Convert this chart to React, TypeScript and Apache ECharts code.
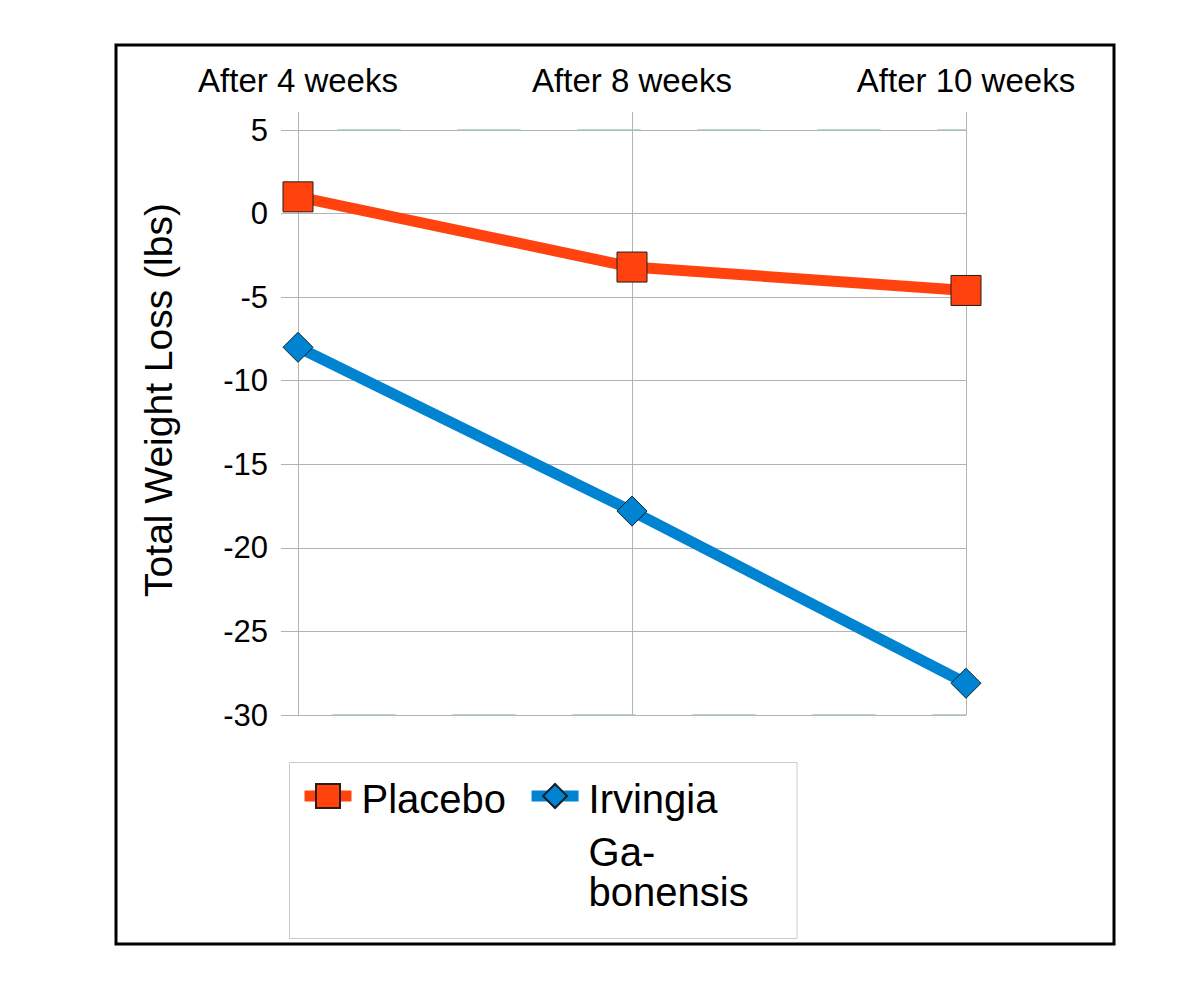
import React, { useEffect, useRef } from "react";
import * as echarts from "echarts";

const categories = ["After 4 weeks", "After 8 weeks", "After 10 weeks"];
const placeboValues = [1, -3.2, -4.6];
const irvingiaValues = [-8.0, -17.8, -28.1];
const seriesNames = ["Placebo", "Irvingia Gabonensis"];
const yAxisTitle = "Total Weight Loss (lbs)";

const FONT = "'Liberation Sans', Arial, sans-serif";
const GRID_COLOR = "#b3b3b3";
const DASH_COLOR = "#a6c4c4";

export default function App() {
  const ref = useRef<HTMLDivElement>(null);

  useEffect(() => {
    if (!ref.current) return;
    const chart = echarts.init(ref.current, null, { renderer: "svg" });
    const option: any = {
      animation: false,
      backgroundColor: "#ffffff",
      grid: { left: 298, top: 130, width: 668, height: 585, containLabel: false },
      xAxis: [
        {
          type: "category",
          position: "top",
          boundaryGap: false,
          data: categories,
          axisLine: {
            show: true,
            onZero: false,
            lineStyle: { color: DASH_COLOR, width: 1.5, type: [62, 58], dashOffset: 80 },
          },
          axisTick: { show: true, inside: false, length: 18, lineStyle: { color: GRID_COLOR, width: 1 } },
          axisLabel: { interval: 0, fontSize: 33, color: "#000", fontFamily: FONT, margin: 33 },
          splitLine: { show: true, lineStyle: { color: GRID_COLOR, width: 1 } },
        },
        {
          type: "category",
          position: "bottom",
          boundaryGap: false,
          data: categories,
          axisLine: {
            show: true,
            onZero: false,
            lineStyle: { color: DASH_COLOR, width: 1.5, type: [62, 58], dashOffset: 85 },
          },
          axisTick: { show: false },
          axisLabel: { show: false },
          splitLine: { show: false },
        },
      ],
      yAxis: {
        type: "value",
        min: -30,
        max: 5,
        interval: 5,
        axisLine: { show: true, onZero: false, lineStyle: { color: GRID_COLOR, width: 1 } },
        axisTick: { show: true, inside: false, length: 17, lineStyle: { color: GRID_COLOR, width: 1 } },
        axisLabel: { fontSize: 31, color: "#000", fontFamily: FONT, margin: 30 },
        splitLine: { show: true, lineStyle: { color: GRID_COLOR, width: 1 } },
      },
      legend: {
        left: 299,
        top: 779,
        padding: 0,
        itemGap: 20,
        itemWidth: 47,
        itemHeight: 30,
        lineStyle: { width: 11 },
        data: [
          { name: seriesNames[0], textStyle: { padding: [6, 0, 0, 5] } },
          { name: seriesNames[1], textStyle: { padding: [86, 0, 0, 5] } },
        ],
        formatter: (name: string) =>
          name === seriesNames[0] ? name : "{l1|Irvingia}\n{l2|Ga-}\n{l3|bonensis}",
        textStyle: {
          fontSize: 40,
          color: "#000",
          fontFamily: FONT,
          rich: {
            l1: { fontSize: 40, lineHeight: 62, fontFamily: FONT, color: "#000" },
            l2: { fontSize: 40, lineHeight: 44, fontFamily: FONT, color: "#000" },
            l3: { fontSize: 40, lineHeight: 36, fontFamily: FONT, color: "#000" },
          },
        },
      },
      series: [
        {
          name: seriesNames[0],
          type: "line",
          xAxisIndex: 0,
          data: placeboValues,
          symbol: "rect",
          symbolSize: 30,
          lineStyle: { color: "#ff420e", width: 11 },
          itemStyle: { color: "#ff420e", borderColor: "#2a1a10", borderWidth: 1 },
          z: 3,
        },
        {
          name: seriesNames[1],
          type: "line",
          xAxisIndex: 0,
          data: irvingiaValues,
          symbol: "diamond",
          symbolSize: 30,
          lineStyle: { color: "#0084d1", width: 11 },
          itemStyle: { color: "#0084d1", borderColor: "#10202a", borderWidth: 1 },
          z: 3,
        },
      ],
      graphic: [
        {
          type: "rect",
          silent: true,
          shape: { x: 116, y: 45, width: 998, height: 899 },
          style: { fill: "none", stroke: "#000", lineWidth: 3 },
        },
        {
          type: "rect",
          silent: true,
          shape: { x: 289.5, y: 762.5, width: 507.5, height: 176 },
          style: { fill: "none", stroke: "#cccccc", lineWidth: 1 },
        },
        {
          type: "text",
          silent: true,
          x: 158.5,
          y: 400,
          rotation: Math.PI / 2,
          style: {
            text: yAxisTitle,
            fontSize: 39,
            fontFamily: FONT,
            fill: "#000",
            align: "center",
            verticalAlign: "middle",
          },
        },
      ],
    };
    chart.setOption(option);
    return () => chart.dispose();
  }, []);

  return (
    <div
      ref={ref}
      style={{ position: "absolute", left: 0, top: 0, width: 1194, height: 984 }}
    />
  );
}
